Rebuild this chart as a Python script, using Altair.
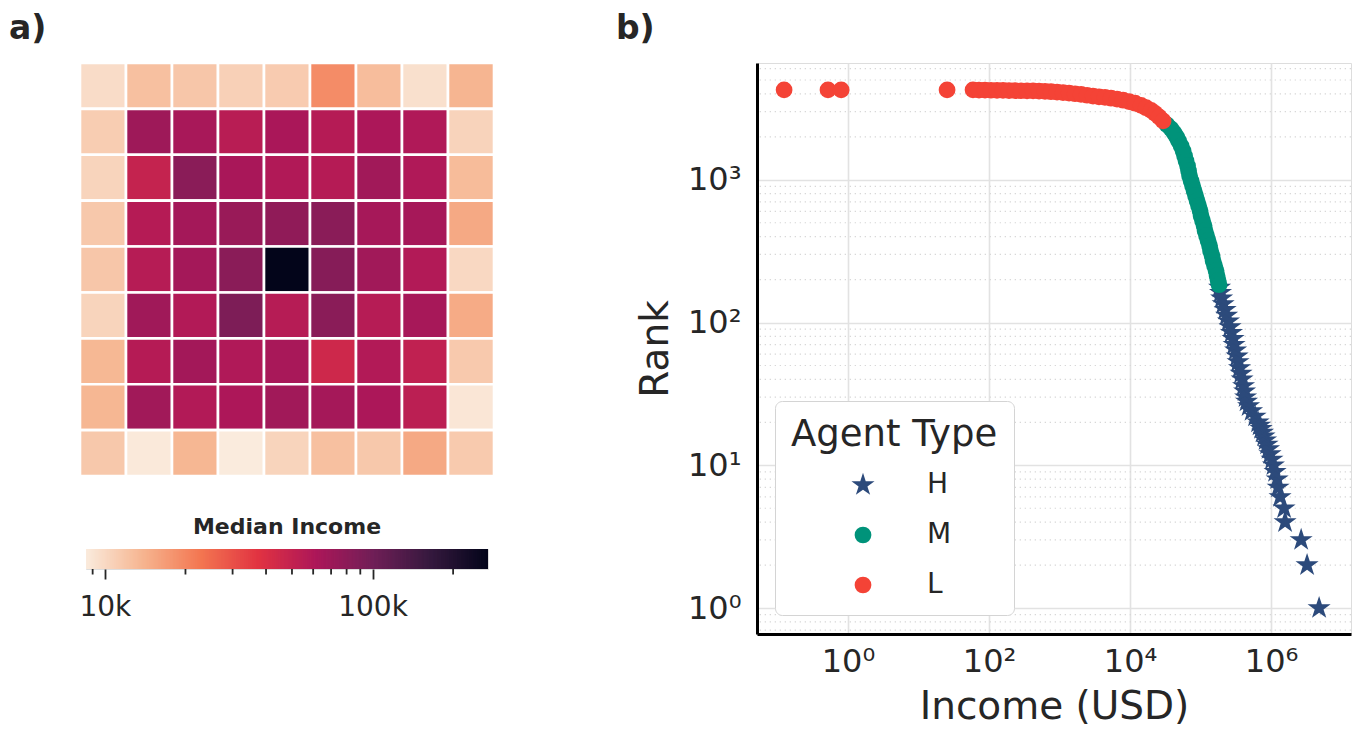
import altair as alt
import numpy as np
import pandas as pd

FONT = "DejaVu Sans"
INK = "#262626"

# ---------------- panel a: median income grid (9 x 9) ----------------
heat_row0 = [9730, 12520, 11850, 10830, 11330, 19160, 12870, 9400, 13790]
heat_row1 = [11130, 69110, 63840, 55210, 62750, 56760, 61660, 59570, 10530]
heat_row2 = [10460, 49260, 81330, 63180, 58950, 56760, 67460, 59570, 12960]
heat_row3 = [11650, 56760, 65850, 72040, 77480, 81330, 64730, 64730, 15200]
heat_row4 = [11850, 56170, 65850, 81330, 270000, 84190, 67460, 58340, 10070]
heat_row5 = [10460, 67930, 58340, 90500, 56170, 81330, 56170, 64280, 14990]
heat_row6 = [13460, 56760, 66310, 59570, 63840, 45330, 58340, 51170, 11530]
heat_row7 = [13560, 67460, 58340, 61240, 67460, 65400, 61660, 53700, 8890]
heat_row8 = [11650, 8650, 13560, 8500, 10460, 12520, 11650, 15200, 11450]
heat_rows = [heat_row0, heat_row1, heat_row2, heat_row3, heat_row4,
             heat_row5, heat_row6, heat_row7, heat_row8]

LO, HI = 8500, 270000
rocket_r = ["#faebdd", "#f6b48f", "#f37651", "#e13342",
            "#ad1759", "#701f57", "#35193e", "#03051a"]
stops = [10 ** (np.log10(LO) + i / 7 * (np.log10(HI) - np.log10(LO))) for i in range(8)]
color_scale = alt.Scale(type="log", domain=stops, range=rocket_r, interpolate="rgb")

cb_major = [10000, 100000]
cb_minor = [9000, 20000, 30000, 40000, 50000, 60000, 70000, 80000, 90000, 200000]

# ---------------- panel b: income rank data ----------------
h_income = [4.80e6, 3.24e6, 2.67e6, 1.58e6, 1.53e6, 1.34e6, 1.26e6, 1.22e6, 1.14e6, 1.08e6,
            1.03e6, 968000, 922000, 878000, 836000, 796000, 757000, 721000, 687000, 654000,
            593000, 529000, 480000, 449000, 435000, 421000, 407000, 388000, 375000, 357000,
            340000, 330000, 314000, 299000, 289000, 275000, 262000, 249000, 234000, 223000,
            209000, 199000, 192000, 186000]
h_rank = [1, 2, 3, 4, 5, 6, 7, 8, 9, 10,
          11, 12, 13, 14, 15, 16, 17, 18, 19, 20,
          22, 24, 26, 28, 30, 33, 36, 40, 44, 48,
          53, 58, 64, 70, 77, 85, 93, 102, 112, 123,
          135, 148, 162, 176]

m_income = [33500, 38200, 42100, 45700, 48800, 52900, 56500, 59300, 62200, 65400,
            67600, 69800, 73300, 77000, 80900, 84900, 89200, 93700, 98400, 101600,
            106700, 112100, 115800, 121600, 127700, 134200, 138600, 145600, 150400, 158000,
            166000, 171400, 177100, 182900]
m_rank = [2424, 2273, 2132, 1998, 1874, 1729, 1595, 1472, 1358, 1253,
          1156, 1067, 984, 908, 838, 773, 713, 658, 607, 560,
          517, 477, 440, 406, 375, 345, 319, 294, 271, 250,
          231, 213, 197, 184]

l_income = [0.124, 0.52, 0.80, 25.4,
            59.3, 72.1, 87.7, 106.7, 129.7, 158, 192, 234, 284, 346,
            421, 512, 622, 757, 922, 1122, 1365, 1660, 2018, 2455,
            2985, 3630, 4416, 5370, 6546, 7962, 9683, 11780, 14320, 16870,
            19860, 22640, 25770, 29380]
l_rank = [4265, 4264, 4263, 4262,
          4260, 4253, 4246, 4240, 4233, 4226, 4219, 4213, 4206, 4199,
          4193, 4186, 4166, 4139, 4112, 4080, 4045, 4007, 3962, 3911,
          3862, 3806, 3776, 3727, 3673, 3609, 3535, 3439, 3319, 3198,
          3062, 2917, 2758, 2586]

TYPES = ["H", "M", "L"]
TYPE_COLORS = ["#2c4a7b", "#00937a", "#f44336"]
STAR = ("M0,-1.45L0.326,-0.448L1.379,-0.448L0.527,0.171L0.852,1.173L0,0.554"
        "L-0.852,1.173L-0.527,0.171L-1.379,-0.448L-0.326,-0.448Z")
TYPE_SHAPES = [STAR, "circle", "circle"]

x_ticks = [1, 100, 10000, 1000000]
y_ticks = [1, 10, 100, 1000]
X_DOM = [0.0512, 1.36e7]
Y_DOM = [0.658, 6580]

# ---------------- build panel a ----------------
hdf = pd.DataFrame([{"row": r, "col": c, "income": v}
                    for r, row in enumerate(heat_rows) for c, v in enumerate(row)])

heat = alt.Chart(hdf).mark_rect(stroke="white", strokeWidth=2.6).encode(
    x=alt.X("col:O", axis=None, scale=alt.Scale(paddingInner=0, paddingOuter=0)),
    y=alt.Y("row:O", axis=None, scale=alt.Scale(paddingInner=0, paddingOuter=0)),
    color=alt.Color("income:Q", scale=color_scale, legend=None),
)
lab_a = alt.Chart(alt.Data(values=[{"t": "a)"}])).mark_text(
    font=FONT, fontSize=33, fontWeight="bold", align="left", baseline="alphabetic", color=INK
).encode(x=alt.value(-71), y=alt.value(-24), text="t:N")
heat_panel = alt.layer(heat, lab_a).properties(width=414, height=413)

edges = np.logspace(np.log10(LO), np.log10(HI), 301)
n_e = len(edges)
cb = pd.DataFrame({
    "v0": edges[:-1],
    "v1": [edges[min(i + 2, n_e - 1)] for i in range(n_e - 1)],
    "mid": np.sqrt(edges[:-1] * edges[1:]),
})
cb_x = alt.Scale(type="log", domain=[LO, HI], nice=False)
cb_rect = alt.Chart(cb).mark_rect().encode(
    x=alt.X("v0:Q", scale=cb_x, title=None,
            axis=alt.Axis(values=cb_major, orient="bottom", domain=False, grid=False,
                          tickSize=10, tickWidth=1.8, tickColor=INK,
                          labelExpr="datum.value == 10000 ? '10k' : '100k'",
                          labelFont=FONT, labelFontSize=28, labelColor=INK, labelPadding=14)),
    x2="v1:Q",
    color=alt.Color("mid:Q", scale=color_scale, legend=None),
)
cb_min = alt.Chart(pd.DataFrame({"v": cb_minor})).mark_rule(color=INK, strokeWidth=1.8).encode(
    x=alt.X("v:Q", scale=cb_x),
    y=alt.value(20), y2=alt.value(25.5),
)
cbar = alt.layer(cb_rect, cb_min).properties(
    width=402, height=20,
    title=alt.TitleParams("Median Income", font=FONT, fontSize=22, fontWeight="bold",
                          color=INK, anchor="middle", baseline="alphabetic", offset=-7),
)

left = alt.vconcat(heat_panel, cbar, spacing=73, bounds="flush", center=True).resolve_scale(
    color="independent", x="independent", y="independent")

# ---------------- build panel b ----------------
sdf = pd.concat([
    pd.DataFrame({"income": h_income, "rank": h_rank, "type": "H"}),
    pd.DataFrame({"income": m_income, "rank": m_rank, "type": "M"}),
    pd.DataFrame({"income": l_income, "rank": l_rank, "type": "L"}),
], ignore_index=True)

xs = alt.Scale(type="log", domain=X_DOM, nice=False)
ys = alt.Scale(type="log", domain=Y_DOM, nice=False)

x_lab = ("datum.value == 1 ? '10⁰' : datum.value == 100 ? '10²' : "
         "datum.value == 10000 ? '10⁴' : '10⁶'")
y_lab = ("datum.value == 1 ? '10⁰' : datum.value == 10 ? '10¹' : "
         "datum.value == 100 ? '10²' : '10³'")

common_axis = dict(grid=True, gridColor="#e2e2e2", gridWidth=1.6, ticks=False,
                   domainColor="black", domainWidth=3,
                   labelFont=FONT, labelFontSize=32, labelColor=INK,
                   titleFont=FONT, titleFontSize=39, titleColor=INK, titleFontWeight="normal")
y_axis = alt.Axis(values=y_ticks, labelExpr=y_lab, labelPadding=16, titlePadding=12,
                  **common_axis)
x_axis = alt.Axis(values=x_ticks, labelExpr=x_lab, labelPadding=12, titlePadding=10,
                  **common_axis)

y_minor = [m * 10 ** e for e in range(-1, 4) for m in range(2, 10)
           if Y_DOM[0] < m * 10 ** e < Y_DOM[1]]
minor = alt.Chart(pd.DataFrame({"rank": y_minor})).mark_rule(
    strokeDash=[1.3, 3.7], color="#d8d8d8", strokeWidth=1.2
).encode(y=alt.Y("rank:Q", scale=ys, title="Rank", axis=y_axis))

leg = alt.Legend(title="Agent Type", orient="none", legendX=18, legendY=338,
                 titleFont=FONT, titleFontSize=37, titleFontWeight="normal", titleColor=INK,
                 titleLimit=500, labelLimit=300,
                 titlePadding=17, labelFont=FONT, labelFontSize=28, labelColor=INK,
                 symbolSize=280, symbolStrokeWidth=0, symbolOffset=58, labelOffset=50,
                 rowPadding=22, padding=16, strokeColor="#d4d4d4", fillColor="white",
                 cornerRadius=7)

pts = alt.Chart(sdf).mark_point(filled=True, opacity=1, size=280, strokeWidth=0).encode(
    x=alt.X("income:Q", scale=xs, title="Income (USD)", axis=x_axis),
    y=alt.Y("rank:Q", scale=ys, title="Rank", axis=y_axis),
    color=alt.Color("type:N", scale=alt.Scale(domain=TYPES, range=TYPE_COLORS), legend=leg),
    shape=alt.Shape("type:N", scale=alt.Scale(domain=TYPES, range=TYPE_SHAPES), legend=leg),
)
lab_b = alt.Chart(alt.Data(values=[{"t": "b)"}])).mark_text(
    font=FONT, fontSize=33, fontWeight="bold", align="left", baseline="alphabetic", color=INK
).encode(x=alt.value(-141), y=alt.value(-24), text="t:N")

right = alt.layer(minor, pts, lab_b).properties(width=594, height=571)

chart = alt.hconcat(left, right, spacing=119).resolve_scale(
    color="independent", shape="independent", x="independent", y="independent"
).properties(
    padding={"left": 0, "top": 4, "right": 0, "bottom": 0}
).configure_view(stroke=None).configure(font=FONT)

chart.save("out.html", embed_options={"renderer": "svg", "actions": False})
